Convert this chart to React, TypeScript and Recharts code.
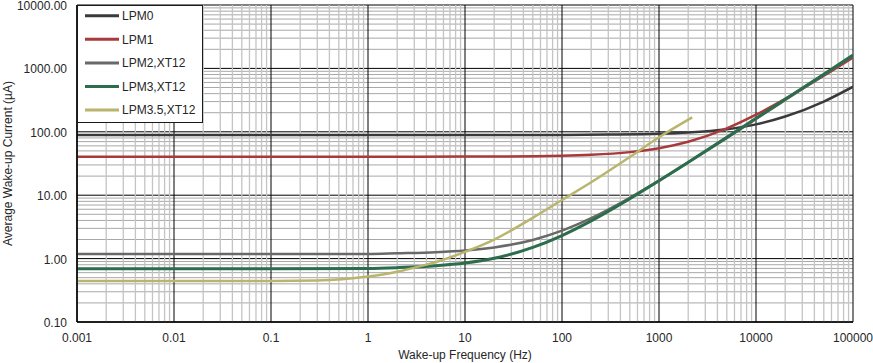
import React from 'react';
import { LineChart, Line, XAxis, YAxis, CartesianGrid, Legend } from 'recharts';

// ---- axis ticks / labels ----
const xMajorTicks = [0.001, 0.01, 0.1, 1, 10, 100, 1000, 10000, 100000];
const xTickLabels = ['0.001', '0.01', '0.1', '1', '10', '100', '1000', '10000', '100000'];
const yMajorTicks = [0.1, 1, 10, 100, 1000, 10000];
const yTickLabels = ['0.10', '1.00', '10.00', '100.00', '1000.00', '10000.00'];
const minorMultipliers = [2, 3, 4, 5, 6, 7, 8, 9];

// ---- series ----
const seriesNames = ['LPM0', 'LPM1', 'LPM2,XT12', 'LPM3,XT12', 'LPM3.5,XT12'];
const seriesColors = ['#3a3a3a', '#a83a3c', '#696969', '#2b6d4c', '#bab56c'];
const seriesWidths = [2.5, 2.5, 2.5, 3, 2.5];

const lpm0Freq = [0.001, 0.01, 0.1, 1, 10, 100, 300, 1000, 2000, 5000, 10000, 20000, 50000, 100000];
const lpm0Current = [89, 89, 89, 89, 89, 89.4, 90.3, 93, 97.5, 110, 131, 174, 300, 514];

const lpm1Freq = [0.001, 0.01, 0.1, 1, 10, 100, 200, 500, 1000, 2000, 5000, 10000, 20000, 50000, 100000];
const lpm1Current = [40.5, 40.5, 40.5, 40.5, 40.6, 42, 43.4, 47.8, 55, 69.5, 113, 186, 331, 766, 1490];

const lpm2Freq = [0.001, 0.01, 0.1, 1, 2, 5, 10, 20, 50, 100, 200, 500, 1000, 2000, 5000, 10000, 20000, 50000, 100000];
const lpm2Current = [1.18, 1.18, 1.18, 1.18, 1.21, 1.26, 1.34, 1.5, 1.97, 2.76, 4.34, 9.1, 17, 32.8, 80, 159, 317, 791, 1581];

const lpm3Freq = [0.001, 0.01, 0.1, 1, 2, 5, 10, 20, 50, 100, 200, 500, 1000, 2000, 5000, 10000, 20000, 50000, 100000];
const lpm3Current = [0.69, 0.69, 0.69, 0.7, 0.72, 0.77, 0.85, 1.01, 1.5, 2.31, 3.93, 8.8, 16.9, 33.1, 81.7, 163, 325, 811, 1621];

const lpm35Freq = [0.001, 0.01, 0.1, 0.3, 1, 2, 3, 5, 10, 20, 50, 100, 200, 500, 1000, 2200];
const lpm35Current = [0.443, 0.443, 0.443, 0.45, 0.52, 0.62, 0.72, 0.88, 1.28, 2.0, 4.4, 8.4, 16, 40, 82, 169];

const seriesFreqs = [lpm0Freq, lpm1Freq, lpm2Freq, lpm3Freq, lpm35Freq];
const seriesCurrents = [lpm0Current, lpm1Current, lpm2Current, lpm3Current, lpm35Current];

const seriesData = seriesFreqs.map((fs, i) => fs.map((f, j) => ({ f, v: seriesCurrents[i][j] })));

const withMinor = (majors: number[]) => {
  const out: number[] = [];
  majors.forEach((d, i) => {
    out.push(d);
    if (i < majors.length - 1) minorMultipliers.forEach((m) => out.push(Number((m * d).toPrecision(6))));
  });
  return out;
};
const xAllTicks = withMinor(xMajorTicks);
const yAllTicks = withMinor(yMajorTicks);

const FONT = '"Liberation Sans", Arial, sans-serif';
const TEXT = '#262626';

const sameVal = (a: number, b: number) => Math.abs(Math.log10(a) - Math.log10(b)) < 1e-6;

const XTick = (props: any) => {
  const { x, y, payload } = props;
  const idx = xMajorTicks.findIndex((v) => sameVal(v, payload.value));
  if (idx < 0) return <g />;
  return (
    <text x={x} y={y + 12} textAnchor="middle" fontSize={12} fontFamily={FONT} fill={TEXT}>
      {xTickLabels[idx]}
    </text>
  );
};

const YTick = (props: any) => {
  const { x, y, payload } = props;
  const idx = yMajorTicks.findIndex((v) => sameVal(v, payload.value));
  if (idx < 0) return <g />;
  return (
    <text x={x} y={y + 5} textAnchor="end" fontSize={12} fontFamily={FONT} fill={TEXT}>
      {yTickLabels[idx]}
    </text>
  );
};

const VGrid = (props: any) => {
  const { x1, y1, x2, y2, index } = props;
  const major = index % 9 === 0;
  return (
    <line
      x1={x1}
      y1={y1}
      x2={x2}
      y2={y2}
      stroke={major ? '#000000' : '#c4c4c4'}
      strokeWidth={major ? 1 : 1.3}
    />
  );
};

const HGrid = (props: any) => {
  const { x1, y1, x2, y2, index } = props;
  const major = index % 9 === 0;
  return (
    <line
      x1={x1}
      y1={y1}
      x2={x2}
      y2={y2}
      stroke={major ? '#000000' : '#a8a8a8'}
      strokeWidth={1}
    />
  );
};

const LegendBox = (props: any) => {
  const payload =
    props.payload && props.payload.length
      ? props.payload
      : seriesNames.map((n, i) => ({ value: n, color: seriesColors[i] }));
  return (
    <div
      style={{
        width: 126,
        height: 118,
        boxSizing: 'border-box',
        border: '1px solid #1a1a1a',
        background: '#ffffff',
      }}
    >
      <svg width={124} height={116} style={{ display: 'block' }}>
        {payload.map((p: any, i: number) => {
          const cy = 9.7 + i * 23.6;
          return (
            <g key={i}>
              <line x1={7} x2={41} y1={cy} y2={cy} stroke={p.color} strokeWidth={3} />
              <text x={44} y={cy + 4.3} fontSize={12} fontFamily={FONT} fill={TEXT}>
                {p.value}
              </text>
            </g>
          );
        })}
      </svg>
    </div>
  );
};

const YTitle = (props: any) => {
  const vb = props.viewBox || { x: 0, y: 5, width: 77, height: 317 };
  const cx = vb.x + 12;
  const cy = vb.y + vb.height / 2;
  return (
    <text
      x={cx}
      y={cy}
      transform={`rotate(-90, ${cx}, ${cy})`}
      textAnchor="middle"
      fontSize={12}
      fontFamily={FONT}
      fill={TEXT}
    >
      Average Wake-up Current (µA)
    </text>
  );
};

const XTitle = (props: any) => {
  const vb = props.viewBox || { x: 77, y: 322, width: 776, height: 41 };
  return (
    <text
      x={vb.x + vb.width / 2}
      y={vb.y + 37}
      textAnchor="middle"
      fontSize={12}
      fontFamily={FONT}
      fill={TEXT}
    >
      Wake-up Frequency (Hz)
    </text>
  );
};

export default function App() {
  return (
    <div style={{ position: 'absolute', left: 0, top: 0, background: '#fff' }}>
      <LineChart
        width={873}
        height={363}
        margin={{ top: 5, right: 20, bottom: 0, left: 0 }}
        style={{ fontFamily: FONT }}
      >
        <CartesianGrid vertical={VGrid} horizontal={HGrid} />
        <XAxis
          dataKey="f"
          type="number"
          scale="log"
          domain={[0.001, 100000]}
          allowDataOverflow
          ticks={xAllTicks}
          interval={0}
          tick={XTick}
          tickLine={false}
          tickSize={6}
          tickMargin={2}
          height={41}
          axisLine={{ stroke: '#000', strokeWidth: 1.5 }}
          label={<XTitle />}
        />
        <YAxis
          dataKey="v"
          type="number"
          scale="log"
          domain={[0.1, 10000]}
          allowDataOverflow
          ticks={yAllTicks}
          interval={0}
          tick={YTick}
          tickLine={false}
          tickSize={6}
          tickMargin={4}
          width={77}
          axisLine={{ stroke: '#000', strokeWidth: 1.5 }}
          label={<YTitle />}
        />
        {seriesData.map((d, i) => (
          <Line
            key={seriesNames[i]}
            data={d}
            dataKey="v"
            name={seriesNames[i]}
            type="monotone"
            stroke={seriesColors[i]}
            strokeWidth={seriesWidths[i]}
            dot={false}
            activeDot={false}
            isAnimationActive={false}
          />
        ))}
        <Legend
          layout="horizontal"
          verticalAlign="middle"
          align="center"
          content={<LegendBox />}
          wrapperStyle={{ left: 77, top: 5, width: 126, height: 118 }}
        />
      </LineChart>
    </div>
  );
}
